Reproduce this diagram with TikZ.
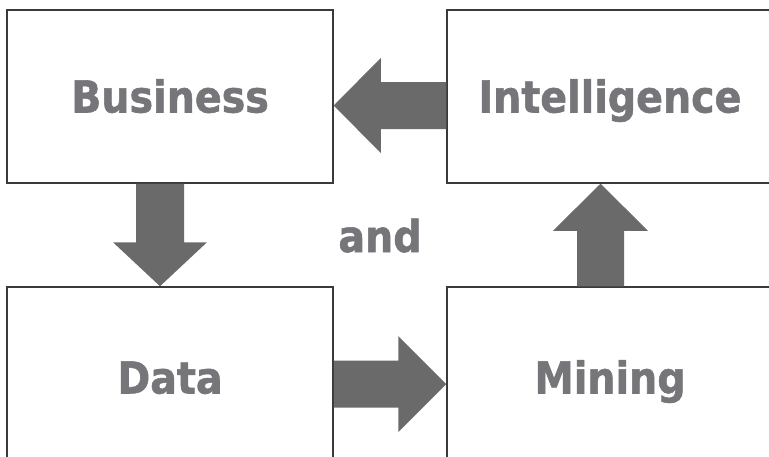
\documentclass[tikz,border=0pt]{standalone}
\usepackage{fontspec}
\setmainfont{DejaVu Sans Condensed}[BoldFeatures={FakeBold=1.2}]
\usetikzlibrary{calc}
\definecolor{txtgray}{HTML}{76767A}
\definecolor{arrgray}{HTML}{6A6A6A}
\definecolor{boxline}{HTML}{3A3A3A}
\tikzset{
  blockbox/.style={draw=boxline, line width=1.5pt, fill=white, minimum width=326pt, minimum height=173pt,
    inner sep=0pt, font=\fontsize{44}{44}\selectfont\bfseries, text=txtgray, text height=32pt, text depth=0pt},
  lowbox/.style={blockbox, minimum height=181pt},
  midword/.style={inner sep=0pt, font=\fontsize{44}{44}\selectfont\bfseries, text=txtgray, text height=32pt, text depth=0pt},
  blockarrow/.style={fill=arrgray, draw=none}
}
\begin{document}
\begin{tikzpicture}[x=1pt,y=-1pt]
\useasboundingbox (0,0) rectangle (769,456);
\clip (0,0) rectangle (769,456);
\fill[white] (0,0) rectangle (769,456);
\node[blockbox] (B) at (170,96.5) {Business};
\node[blockbox] (I) at (610,96.5) {Intelligence};
\node[lowbox] (D) at (170,377.5) {Data};
\node[lowbox] (M) at (610,377.5) {Mining};
\node[midword] (and) at (380,236) {and};
% Intelligence -> Business
\fill[blockarrow] ($(B.east)+(0,9)$) coordinate (t1)
  -- ($(t1)+(47,-47.5)$) -- ($(t1)+(47,-23.5)$) -- ($(I.west)+(0,-14.5)$)
  -- ($(I.west)+(0,32.5)$) -- ($(t1)+(47,23.5)$) -- ($(t1)+(47,47.5)$) -- cycle;
% Business -> Data
\fill[blockarrow] ($(D.north)+(-10,0)$) coordinate (t2)
  -- ($(t2)+(-47,-44)$) -- ($(t2)+(-24,-44)$) -- ($(B.south)+(-34,0)$)
  -- ($(B.south)+(14,0)$) -- ($(t2)+(24,-44)$) -- ($(t2)+(47,-44)$) -- cycle;
% Data -> Mining
\fill[blockarrow] ($(M.west)+(0,6.5)$) coordinate (t3)
  -- ($(t3)+(-48,-48)$) -- ($(t3)+(-48,-23.5)$) -- ($(D.east)+(0,-17)$)
  -- ($(D.east)+(0,30)$) -- ($(t3)+(-48,23.5)$) -- ($(t3)+(-48,48)$) -- cycle;
% Mining -> Intelligence
\fill[blockarrow] ($(I.south)+(-9.5,0)$) coordinate (t4)
  -- ($(t4)+(-47.5,47)$) -- ($(t4)+(-23.5,47)$) -- ($(M.north)+(-33,0)$)
  -- ($(M.north)+(14,0)$) -- ($(t4)+(23.5,47)$) -- ($(t4)+(47.5,47)$) -- cycle;
\end{tikzpicture}
\end{document}
